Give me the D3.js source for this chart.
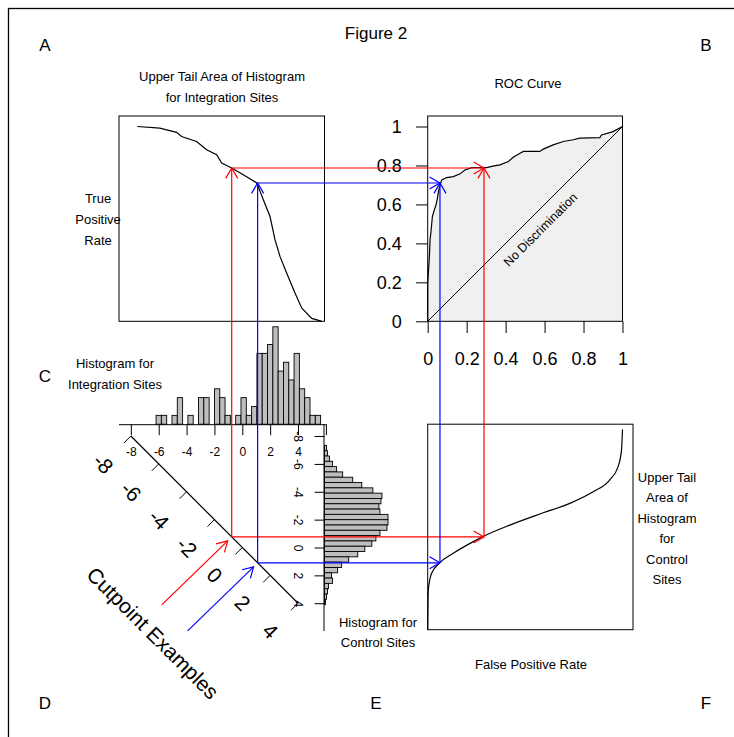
<!DOCTYPE html><html lang="en"><head><meta charset="utf-8">
<title>Figure 2</title>
<script src="https://cdn.jsdelivr.net/npm/d3@7"></script>
<style>
body { margin: 0; background: #fff; }
svg text { font-family: "Liberation Sans", Arial, sans-serif; fill: #000; }
</style>
</head>
<body>
<div id="chart"></div>
<script>
// histogram of integration sites (cutpoint bins)
const intBinStart = -6.19;
const binWidth = 0.381;
const intCounts = [1,1,0,1,3,0,1,0,3,3,0,4,3,1,0,1,3,1,2,8,8,9,11,6,7,5,8,4,3,1,1];

// histogram of control sites
const ctlBinStart = -7.33;
const ctlCounts = [2,3,5,8,12,18,28,37,48,57,56,54,55,63,63,62,55,51,47,40,33,24,17,13,7,8,4,3,2,1];

// upper tail area, integration sites (true positive rate vs cutpoint)
const tailIntCut = [-7.53,-5.92,-4.72,-4.36,-3.28,-2.56,-1.84,-1.48,-0.76,0.07,1.04,1.51,1.99,2.35,2.71,3.19,3.79,4.27,4.99,5.71];
const tailIntTPR = [1.0,0.992,0.970,0.949,0.923,0.881,0.855,0.812,0.787,0.752,0.710,0.624,0.538,0.418,0.332,0.247,0.144,0.067,0.015,0];

// upper tail area, control sites (false positive rate vs cutpoint)
const tailCtlFPR = [0,0.003,0.02,0.063,0.131,0.234,0.289,0.422,0.593,0.73,0.849,0.934,0.977,0.995,1.0];
const tailCtlCut = [5.91,3.05,1.85,1.09,0.42,-0.42,-0.82,-1.61,-2.49,-3.17,-4.0,-4.84,-5.79,-6.99,-8.47];

// ROC curve
const rocFPR = [0,0,0.0085,0.012,0.017,0.024,0.034,0.043,0.05,0.055,0.06,0.072,0.097,0.132,0.166,0.191,0.226,0.303,0.328,0.371,0.414,0.439,0.474,0.491,0.576,0.593,0.644,0.696,0.747,0.781,0.884,0.892,0.952,1];
const rocTPR = [0,0.195,0.332,0.418,0.461,0.538,0.572,0.598,0.632,0.666,0.688,0.726,0.738,0.743,0.757,0.777,0.789,0.789,0.795,0.803,0.820,0.842,0.863,0.872,0.872,0.884,0.906,0.923,0.932,0.940,0.943,0.957,0.974,1];

// cutpoint examples
const cutValues = [-0.76, 1.10];
const cutTPR = [0.787, 0.710];
const cutFPR = [0.289, 0.063];
const cutColors = ["#ff0000", "#0000ff"];

// ticks
const topTicks = [-8,-6,-4,-2,0,2,4,6];
const cutTicks = [-8,-6,-4,-2,0,2,4];
const rateTicks = [0,0.2,0.4,0.6,0.8,1];

const W = 734, H = 737;
const svg = d3.select("#chart").append("svg").attr("width", W).attr("height", H);
const fmt = d => String(d);

// scales
const cutX = d3.scaleLinear().domain([-8.85, 5.9]).range([119, 324.5]);
const cutY = d3.scaleLinear().domain([-8.85, 5.9]).range([424.2, 629.7]);
const rateY = d3.scaleLinear().domain([0, 1.054]).range([321.3, 116]);
const rateX = d3.scaleLinear().domain([0, 1.054]).range([427.7, 633]);
const intH = d3.scaleLinear().domain([0, 11]).range([424.2, 326.8]);
const ctlW = d3.scaleLinear().domain([0, 63]).range([324.5, 388]);

// outer frame
svg.append("rect").attr("x", 8.5).attr("y", 8.5).attr("width", 800).attr("height", 800)
	.attr("fill", "none").attr("stroke", "#000").attr("stroke-width", 1.3);

function label(x, y, t, size, rot) {
	const el = svg.append("text").attr("x", x).attr("y", y).attr("text-anchor", "middle")
		.attr("dominant-baseline", "central").attr("font-size", size).text(t);
	if (rot) el.attr("transform", `rotate(${rot},${x},${y})`);
	return el;
}

label(376, 33, "Figure 2", 17);
label(45, 45, "A", 17); label(706, 45, "B", 17); label(45, 376, "C", 17);
label(45, 703, "D", 17); label(376, 703, "E", 17); label(706, 703, "F", 17);
label(222, 76, "Upper Tail Area of Histogram", 13);
label(222, 97, "for Integration Sites", 13);
label(528, 83, "ROC Curve", 13);
["True", "Positive", "Rate"].forEach((t, i) => label(98, 198 + i * 21, t, 13));
label(115, 363, "Histogram for", 13);
label(115, 384, "Integration Sites", 13);
label(378, 622, "Histogram for", 13);
label(378, 642, "Control Sites", 13);
label(531, 664, "False Positive Rate", 13);
["Upper Tail", "Area of", "Histogram", "for", "Control", "Sites"].forEach((t, i) => label(667, 477 + i * 20.5, t, 13));

// panel A: upper tail of integration histogram
svg.append("path")
	.attr("d", d3.line().x((d, i) => cutX(d)).y((d, i) => rateY(tailIntTPR[i]))(tailIntCut))
	.attr("fill", "none").attr("stroke", "#000").attr("stroke-width", 1.2);
svg.append("rect").attr("x", cutX.range()[0]).attr("y", rateY.range()[1])
	.attr("width", cutX.range()[1] - cutX.range()[0]).attr("height", rateY.range()[0] - rateY.range()[1])
	.attr("fill", "none").attr("stroke", "#000");

// panel B: ROC curve
const roc = rocFPR.map((f, i) => [f, rocTPR[i]]);
svg.append("path").datum(roc)
	.attr("d", d3.area().x(d => rateX(d[0])).y0(rateY(0)).y1(d => rateY(d[1])))
	.attr("fill", "#f0f0f0");
svg.append("line").attr("x1", rateX(0)).attr("y1", rateY(0)).attr("x2", rateX(1)).attr("y2", rateY(1))
	.attr("stroke", "#000");
svg.append("path").datum(roc)
	.attr("d", d3.line().x(d => rateX(d[0])).y(d => rateY(d[1])))
	.attr("fill", "none").attr("stroke", "#000").attr("stroke-width", 1.2);
label(rateX(0.58), rateY(0.47), "No Discrimination", 12.5, -45);
svg.append("rect").attr("x", rateX(0)).attr("y", rateY.range()[1])
	.attr("width", rateX(1) - rateX(0)).attr("height", rateY.range()[0] - rateY.range()[1])
	.attr("fill", "none").attr("stroke", "#000");

const ay = svg.append("g").attr("transform", `translate(${rateX(0)},0)`)
	.call(d3.axisLeft(rateY).tickValues(rateTicks).tickSize(11.7).tickSizeOuter(0).tickFormat(fmt));
ay.selectAll("text").attr("x", -26).attr("font-size", 18);
const ax = svg.append("g").attr("transform", `translate(0,${rateY(0)})`)
	.call(d3.axisBottom(rateX).tickValues(rateTicks).tickSize(11.7).tickSizeOuter(0).tickFormat(fmt));
ax.selectAll("text").attr("y", 37).attr("dy", "0.35em").attr("font-size", 18);
svg.selectAll(".domain").remove();

// top histogram (integration sites)
svg.append("g").selectAll("rect").data(intCounts).join("rect")
	.attr("x", (d, i) => cutX(intBinStart + i * binWidth))
	.attr("width", cutX(binWidth) - cutX(0))
	.attr("y", d => intH(d)).attr("height", d => intH(0) - intH(d))
	.attr("fill", d => d > 0 ? "#bebebe" : "none").attr("stroke", "#000").attr("stroke-width", 0.9);
const ta = svg.append("g").attr("transform", `translate(0,${intH(0)})`)
	.call(d3.axisBottom(cutX).tickValues(topTicks).tickSize(11).tickSizeOuter(0)
		.tickFormat(d => d <= 4 ? String(d) : ""));
ta.select(".domain").attr("d", `M${cutX(-8.85)},0.5H${cutX(6)}`);
ta.selectAll("text").attr("y", 28).attr("dy", "0.35em").attr("font-size", 12);

// right histogram (control sites)
svg.append("g").selectAll("rect").data(ctlCounts).join("rect")
	.attr("y", (d, i) => cutY(ctlBinStart + i * binWidth))
	.attr("height", cutY(binWidth) - cutY(0))
	.attr("x", ctlW(0)).attr("width", d => ctlW(d) - ctlW(0))
	.attr("fill", "#bebebe").attr("stroke", "#000").attr("stroke-width", 0.9);
const ra = svg.append("g").attr("transform", `translate(${ctlW(0)},0)`)
	.call(d3.axisLeft(cutY).tickValues(cutTicks).tickSize(10).tickSizeOuter(0).tickFormat(fmt));
ra.select(".domain").attr("d", `M-0.5,${cutY(-8.85)}V${cutY(6)}`);
ra.selectAll("text").attr("x", 0).attr("y", 0).attr("dy", "0.35em").attr("font-size", 12)
	.attr("text-anchor", "middle").attr("transform", "translate(-26,0) rotate(90)");
svg.selectAll(".tick text").text(function () { return this.textContent.replace("\u2212", "-"); });

// diagonal cutpoint axis
const diag = svg.append("g");
diag.append("line").attr("x1", cutX(-8)).attr("y1", cutY(-8)).attr("x2", cutX(4)).attr("y2", cutY(4))
	.attr("stroke", "#000").attr("stroke-width", 1.2);
cutTicks.forEach(v => {
	const x = cutX(v), y = cutY(v);
	diag.append("line").attr("x1", x).attr("y1", y).attr("x2", x - 7).attr("y2", y + 7).attr("stroke", "#000");
	label(x - 27.5, y + 27.5, String(v), 21, 45);
});
label(153, 633, "Cutpoint Examples", 21, 45);

// F panel: upper tail of control histogram
svg.append("path")
	.attr("d", d3.line().curve(d3.curveMonotoneX).x(d => rateX(d)).y((d, i) => cutY(tailCtlCut[i]))(tailCtlFPR))
	.attr("fill", "none").attr("stroke", "#000").attr("stroke-width", 1.2);
svg.append("rect").attr("x", rateX.range()[0]).attr("y", cutY.range()[0])
	.attr("width", rateX.range()[1] - rateX.range()[0]).attr("height", cutY.range()[1] - cutY.range()[0])
	.attr("fill", "none").attr("stroke", "#000");

// connector arrows
function arrow(x1, y1, x2, y2, color) {
	svg.append("line").attr("x1", x1).attr("y1", y1).attr("x2", x2).attr("y2", y2)
		.attr("stroke", color).attr("stroke-width", 1.2);
	const a = Math.atan2(y2 - y1, x2 - x1), len = 12, ang = Math.PI / 6;
	const pts = [[x2 - len * Math.cos(a - ang), y2 - len * Math.sin(a - ang)], [x2, y2],
		[x2 - len * Math.cos(a + ang), y2 - len * Math.sin(a + ang)]];
	svg.append("path").attr("d", d3.line()(pts)).attr("fill", "none").attr("stroke", color).attr("stroke-width", 1.2);
}
cutValues.forEach((v, i) => {
	const c = cutColors[i];
	const px = cutX(v), py = cutY(v);
	const ty = rateY(cutTPR[i]), fx = rateX(cutFPR[i]);
	arrow(px, py, px, ty, c);
	arrow(px, ty, fx, ty, c);
	arrow(px, py, fx, py, c);
	arrow(fx, py, fx, ty, c);
	arrow(px - 70, py + 68, px - 4, py + 4, c);
});
</script>
</body>
</html>
